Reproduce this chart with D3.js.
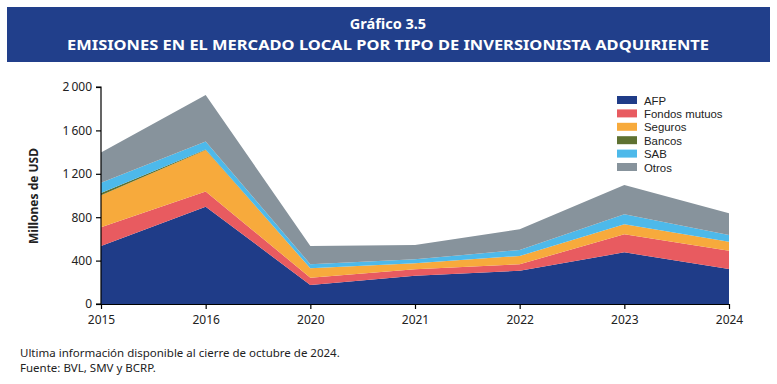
<!DOCTYPE html>
<html>
<head>
<meta charset="utf-8">
<script src="https://cdn.jsdelivr.net/npm/d3@7"></script>
<style>
  body { margin: 0; background: #fff; }
  svg { display: block; font-family: 'Noto Sans', 'Open Sans', sans-serif; }
</style>
</head>
<body>
<svg id="chart" width="777" height="384"></svg>
<script>
// Data (millions of USD)
const years = ['2015', '2016', '2020', '2021', '2022', '2023', '2024'];
const seriesNames = ['AFP', 'Fondos mutuos', 'Seguros', 'Bancos', 'SAB', 'Otros'];
const afp = [535, 897, 175, 261, 307, 476, 323];
const fondos = [172, 139, 68, 59, 59, 167, 168];
const seguros = [295, 384, 86, 55, 77, 92, 83];
const bancos = [20, 5, 0, 0, 0, 0, 0];
const sab = [95, 72, 37, 37, 55, 92, 62];
const otros = [280, 430, 169, 132, 190, 270, 200];
const yTicks = [0, 400, 800, 1200, 1600, 2000];

const colors = ['#1f3c88', '#e85b60', '#f7aa3c', '#5e7131', '#4db9ea', '#87939c'];
const seriesValues = [afp, fondos, seguros, bancos, sab, otros];

const rows = years.map((y, i) => {
    const r = { year: y };
    seriesNames.forEach((s, k) => { r[s] = seriesValues[k][i]; });
    return r;
});

const svg = d3.select('#chart');
const font = "'Noto Sans', 'Open Sans', sans-serif";

// Title banner
svg.append('rect').attr('x', 7).attr('y', 7).attr('width', 763).attr('height', 55).attr('fill', '#213f8b');
svg.append('text').attr('x', 388).attr('y', 29).attr('text-anchor', 'middle')
    .attr('fill', '#fff').attr('font-size', 14.5).attr('font-weight', 700).text('Gráfico 3.5');
svg.append('text').attr('x', 388).attr('y', 50).attr('text-anchor', 'middle')
    .attr('fill', '#fff').attr('font-size', 15).attr('font-weight', 700)
    .attr('textLength', 642).attr('lengthAdjust', 'spacingAndGlyphs')
    .text('EMISIONES EN EL MERCADO LOCAL POR TIPO DE INVERSIONISTA ADQUIRIENTE');

const x = d3.scalePoint().domain(years).range([101, 729]);
const y = d3.scaleLinear().domain([0, 2000]).range([304, 87]);

const stack = d3.stack().keys(seriesNames);
const layers = stack(rows);

const area = d3.area()
    .x(d => x(d.data.year))
    .y0(d => y(d[0]))
    .y1(d => y(d[1]));

svg.append('g').selectAll('path').data(layers).join('path')
    .attr('d', area)
    .attr('fill', (d, i) => colors[i]);

// Axes
const yAxis = svg.append('g').attr('transform', 'translate(101,0)')
    .call(d3.axisLeft(y).tickValues(yTicks).tickSize(5).tickPadding(4)
        .tickFormat(d => d3.format(',')(d).replace(',', '\u2009')));
const xAxis = svg.append('g').attr('transform', 'translate(0,304)')
    .call(d3.axisBottom(x).tickSize(5).tickPadding(6).tickSizeOuter(0));
[yAxis, xAxis].forEach(a => {
    a.select('.domain').attr('stroke', '#000').attr('stroke-width', 1.2);
    a.selectAll('.tick line').attr('stroke', '#000').attr('stroke-width', 1.2);
    a.selectAll('text').attr('font-family', font).attr('font-size', 12).attr('fill', '#222');
});
yAxis.select('.domain').attr('d', 'M-5,87H0V304H-5');

svg.append('text')
    .attr('transform', 'translate(38,196) rotate(-90)')
    .attr('text-anchor', 'middle').attr('font-size', 12).attr('font-weight', 700)
    .attr('fill', '#222').text('Millones de USD');

// Legend (tight rows as in the reference)
const legend = svg.append('g').attr('transform', 'translate(617,96)');
seriesNames.forEach((s, i) => {
    const row = legend.append('g').attr('transform', `translate(0,${i * 13.4})`);
    row.append('rect').attr('width', 20).attr('height', 8).attr('fill', colors[i]);
    row.append('text').attr('x', 27).attr('y', 8.5)
        .attr('font-family', "'Liberation Sans', Arial, sans-serif")
        .attr('font-size', 11.4).attr('fill', '#222').text(s);
});

// Notes
svg.append('text').attr('x', 20).attr('y', 357).attr('font-size', 11.5).attr('fill', '#222')
    .text('Ultima información disponible al cierre de octubre de 2024.');
svg.append('text').attr('x', 20).attr('y', 372).attr('font-size', 11.5).attr('fill', '#222')
    .text('Fuente: BVL, SMV y BCRP.');
</script>
</body>
</html>
